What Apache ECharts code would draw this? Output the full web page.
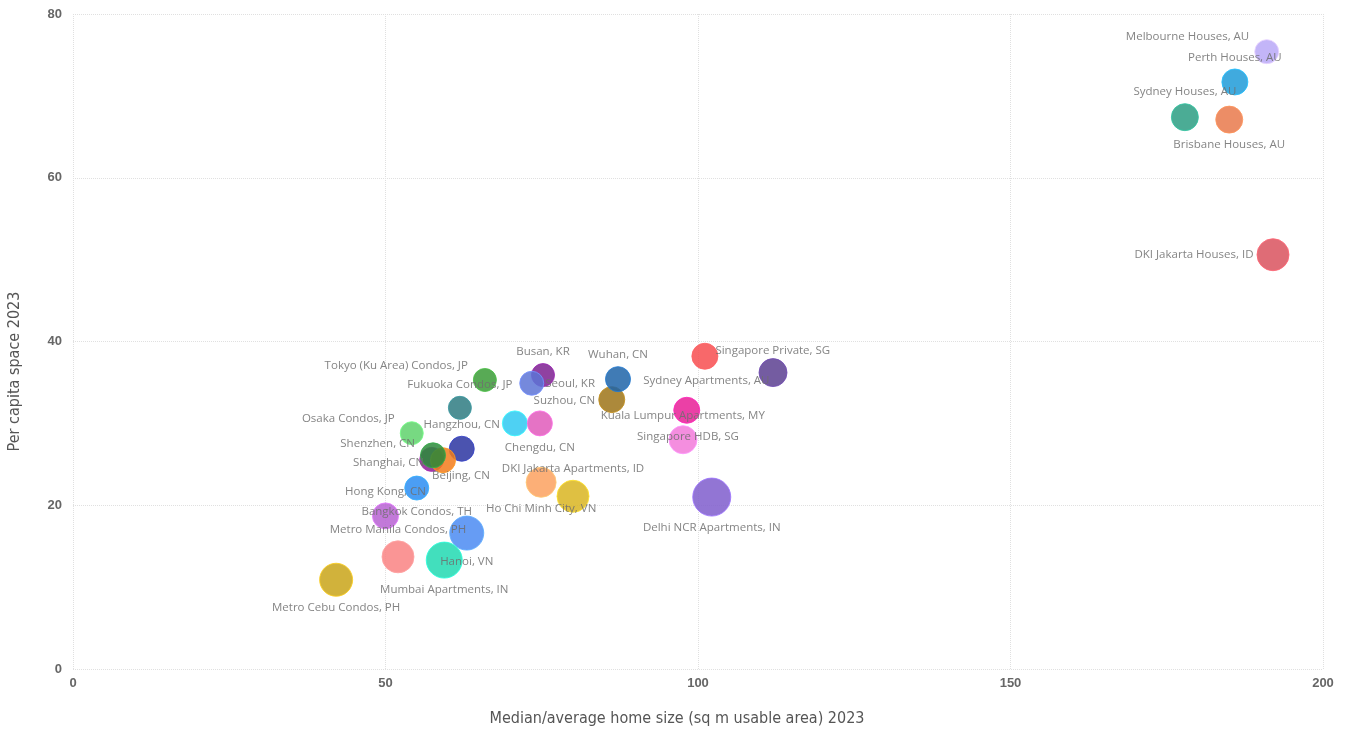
<!DOCTYPE html>
<html>
<head>
<meta charset="utf-8">
<script src="https://cdn.jsdelivr.net/npm/echarts@6/dist/echarts.min.js"></script>
<style>
  html, body { margin: 0; padding: 0; background: #fff; }
  #homeSize { width: 1351px; height: 732px; }
</style>
</head>
<body>
<div id="homeSize"></div>
<script>
// home size vs per capita space, 2023
var cities = [
  'Melbourne Houses, AU', 'Perth Houses, AU', 'Sydney Houses, AU', 'Brisbane Houses, AU',
  'DKI Jakarta Houses, ID', 'Singapore Private, SG', 'Sydney Apartments, AU', 'Busan, KR',
  'Seoul, KR', 'Suzhou, CN', 'Wuhan, CN', 'Tokyo (Ku Area) Condos, JP', 'Fukuoka Condos, JP',
  'Kuala Lumpur Apartments, MY', 'Singapore HDB, SG', 'Guangzhou, CN', 'Chengdu, CN',
  'Osaka Condos, JP', 'Hangzhou, CN', 'Shanghai, CN', 'Beijing, CN', 'Shenzhen, CN',
  'Bangkok Condos, TH', 'Hong Kong, CN', 'Ho Chi Minh City, VN', 'DKI Jakarta Apartments, ID',
  'Delhi NCR Apartments, IN', 'Metro Manila Condos, PH', 'Hanoi, VN', 'Mumbai Apartments, IN',
  'Metro Cebu Condos, PH'
];
var homeSize = [
  191.0, 185.9, 177.9, 185.0,
  192.0, 101.1, 112.0, 75.2,
  73.4, 86.2, 87.2, 65.9, 61.9,
  98.2, 97.6, 70.7, 74.7,
  54.2, 62.2, 57.4, 59.2, 57.6,
  55.0, 50.0, 74.9, 80.0,
  102.2, 52.0, 63.0, 59.4,
  42.1
];
var perCapita = [
  75.4, 71.7, 67.4, 67.1,
  50.6, 38.2, 36.2, 35.9,
  34.9, 32.9, 35.4, 35.3, 31.9,
  31.6, 28.0, 30.0, 30.0,
  28.8, 26.9, 25.6, 25.5, 26.1,
  22.1, 18.7, 22.8, 21.1,
  21.0, 13.7, 16.6, 13.3,
  10.9
];
var bubble = [
  12, 13, 13.5, 13.5,
  16, 13, 14, 11.5,
  12, 13, 12.5, 11.5, 11.5,
  13, 14, 12.5, 12.5,
  11.5, 12.5, 12, 12.5, 12.5,
  12, 13, 15, 16,
  19, 16, 17, 18,
  16.5
];
var xTicks = [0, 50, 100, 150, 200];
var yTicks = [0, 20, 40, 60, 80];

var colors = [
  '#b9a8f7', '#1f9bd8', '#2b9e83', '#e9794b',
  '#d9525e', '#f74e50', '#5c3f91', '#7d2090',
  '#5d74d6', '#9d7419', '#1f64a8', '#3b9b37', '#2e7b81',
  '#e71f97', '#f27ad9', '#2fc9f1', '#e05bbb',
  '#5fd26c', '#2b35a1', '#8b2192', '#f27b1b', '#2b8b3b',
  '#2b8df2', '#b761d2', '#fca15f', '#d9b521',
  '#7f5dcd', '#f98383', '#4b8bf2', '#21d9b1',
  '#c9a519'
];

// label placement per point
var labelPos = {
  'Melbourne Houses, AU': ['left', [0, -15]],
  'Perth Houses, AU': ['top', [0, 0]],
  'Sydney Houses, AU': ['top', [0, 0]],
  'Brisbane Houses, AU': ['bottom', [0, 0]],
  'DKI Jakarta Houses, ID': ['left', [2, 0]],
  'Singapore Private, SG': ['right', [-8, -6]],
  'Sydney Apartments, AU': ['left', [16, 8]],
  'Busan, KR': ['top', [0, 0]],
  'Seoul, KR': ['right', [-4, 0]],
  'Suzhou, CN': ['left', [2, 1]],
  'Wuhan, CN': ['top', [0, 0]],
  'Tokyo (Ku Area) Condos, JP': ['left', [0, -14]],
  'Fukuoka Condos, JP': ['top', [0, 0]],
  'Kuala Lumpur Apartments, MY': ['inside', [-4, 5]],
  'Singapore HDB, SG': ['inside', [5, -3]],
  'Guangzhou, CN': null,
  'Chengdu, CN': ['bottom', [0, 0]],
  'Osaka Condos, JP': ['left', [0, -14]],
  'Hangzhou, CN': ['top', [0, 0]],
  'Shanghai, CN': ['left', [10, 3]],
  'Beijing, CN': ['bottom', [18, -9]],
  'Shenzhen, CN': ['left', [0, -12]],
  'Bangkok Condos, TH': ['bottom', [0, 0]],
  'Hong Kong, CN': ['top', [0, 0]],
  'Ho Chi Minh City, VN': ['bottom', [0, 0]],
  'DKI Jakarta Apartments, ID': ['top', [0, 0]],
  'Delhi NCR Apartments, IN': ['bottom', [0, 0]],
  'Metro Manila Condos, PH': ['top', [0, 0]],
  'Hanoi, VN': ['bottom', [0, 0]],
  'Mumbai Apartments, IN': ['bottom', [0, 0]],
  'Metro Cebu Condos, PH': ['bottom', [0, 0]]
};

var points = cities.map(function (name, i) {
  var lp = labelPos[name];
  return {
    name: name,
    value: [homeSize[i], perCapita[i], bubble[i]],
    itemStyle: {
      color: colors[i],
      borderColor: echarts.color.lift(colors[i], -0.25)
    },
    label: lp ? { show: true, position: lp[0], offset: lp[1] } : { show: false }
  };
});

var chart = echarts.init(document.getElementById('homeSize'));

var nameFont = {
  fontFamily: 'DejaVu Sans Condensed, Roboto, sans-serif',
  fontSize: 16,
  color: '#555'
};
var tickFont = {
  fontFamily: 'Liberation Sans',
  fontWeight: 'bold',
  fontSize: 13,
  color: '#666'
};

var option = {
  animation: false,
  grid: { left: 73, right: 28, top: 14, bottom: 63, containLabel: false, outerBoundsMode: 'none' },
  xAxis: {
    type: 'value',
    min: xTicks[0],
    max: xTicks[xTicks.length - 1],
    interval: 50,
    name: 'Median/average home size (sq m usable area) 2023',
    nameLocation: 'middle',
    nameGap: 42,
    nameTextStyle: Object.assign({ padding: [0, 42, 0, 0] }, nameFont),
    axisLine: { show: false },
    axisTick: { show: false },
    axisLabel: Object.assign({ margin: 8 }, tickFont),
    splitLine: { lineStyle: { type: 'dotted', color: '#e0e0e0' } }
  },
  yAxis: {
    type: 'value',
    min: yTicks[0],
    max: yTicks[yTicks.length - 1],
    interval: 20,
    name: 'Per capita space 2023',
    nameLocation: 'middle',
    nameRotate: 90,
    nameGap: 50,
    nameTextStyle: Object.assign({ padding: [0, 60, 0, 0] }, nameFont),
    axisLine: { show: false },
    axisTick: { show: false },
    axisLabel: Object.assign({ margin: 11 }, tickFont),
    splitLine: { lineStyle: { type: 'dotted', color: '#e0e0e0' } }
  },
  series: [
    {
      type: 'scatter',
      data: points,
      symbolSize: function (v) { return v[2] * 2; },
      itemStyle: { opacity: 0.85, borderWidth: 1 },
      label: {
        formatter: '{b}',
        fontFamily: 'Open Sans',
        fontSize: 11.5,
        color: '#6e6e6e',
        distance: 5
      },
      emphasis: { disabled: true }
    }
  ]
};

chart.setOption(option);
</script>
</body>
</html>
